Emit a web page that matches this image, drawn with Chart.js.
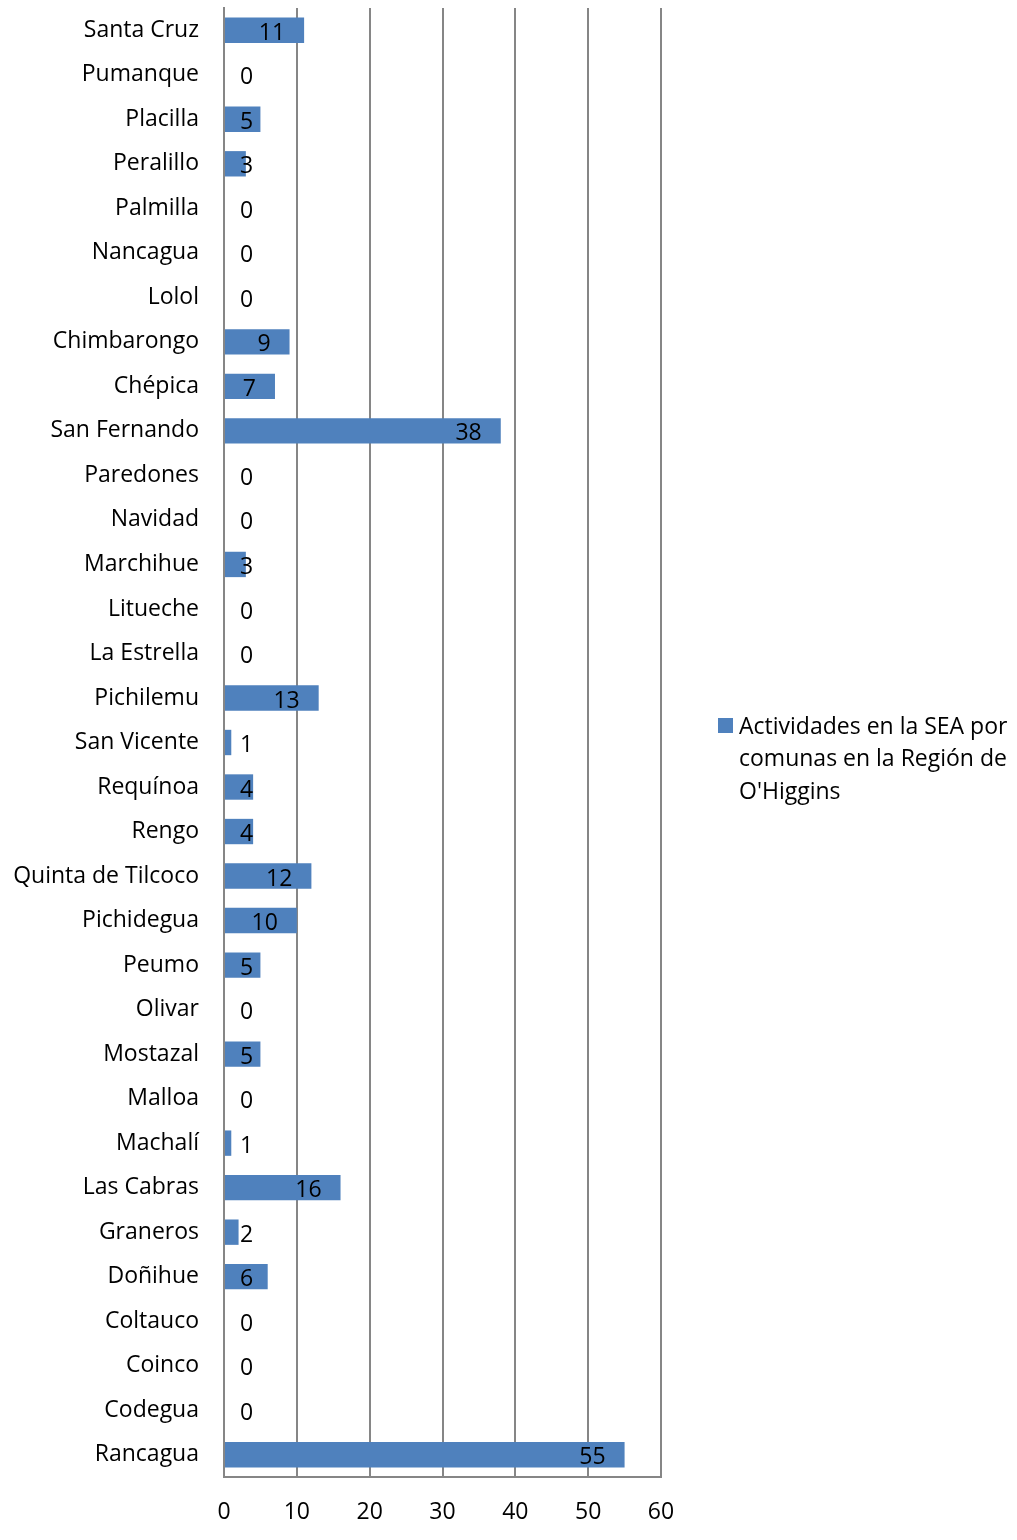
<!DOCTYPE html>
<html>
<head>
<meta charset="utf-8">
<script src="https://cdn.jsdelivr.net/npm/chart.js@4.4.0/dist/chart.umd.min.js"></script>
<style>
  html, body { margin: 0; padding: 0; background: #fff; }
  #wrap { width: 1017px; height: 1540px; position: relative; }
</style>
</head>
<body>
<div id="wrap"><canvas id="chart" width="1017" height="1540"></canvas></div>
<script>
const comunas = [
  "Santa Cruz", "Pumanque", "Placilla", "Peralillo", "Palmilla", "Nancagua", "Lolol",
  "Chimbarongo", "Chépica", "San Fernando", "Paredones", "Navidad", "Marchihue",
  "Litueche", "La Estrella", "Pichilemu", "San Vicente", "Requínoa", "Rengo",
  "Quinta de Tilcoco", "Pichidegua", "Peumo", "Olivar", "Mostazal", "Malloa",
  "Machalí", "Las Cabras", "Graneros", "Doñihue", "Coltauco", "Coinco", "Codegua",
  "Rancagua"
];
const actividades = [
  11, 0, 5, 3, 0, 0, 0,
  9, 7, 38, 0, 0, 3,
  0, 0, 13, 1, 4, 4,
  12, 10, 5, 0, 5, 0,
  1, 16, 2, 6, 0, 0, 0,
  55
];
const serieLabel = "Actividades en la SEA por comunas en la Región de O'Higgins";
const legendLines = ["Actividades en la SEA por", "comunas en la Región de", "O'Higgins"];
const xTicks = [0, 10, 20, 30, 40, 50, 60];

const FONT = "'Open Sans', Lato, sans-serif";
const FSIZE = 23;
const GRID = "#868686";
const BAR = "#4F81BD";

// value labels, Excel "inside end" style
const barLabels = {
  id: "barLabels",
  afterDatasetsDraw(chart) {
    const ctx = chart.ctx;
    const meta = chart.getDatasetMeta(0);
    const x0 = chart.scales.x.getPixelForValue(0);
    ctx.save();
    ctx.font = FSIZE + "px " + FONT;
    ctx.fillStyle = "#000";
    ctx.textBaseline = "middle";
    ctx.textAlign = "left";
    meta.data.forEach((bar, i) => {
      const txt = String(actividades[i]);
      const w = ctx.measureText(txt).width;
      const right = Math.max(bar.x - 19, x0 + 16 + w);
      ctx.fillText(txt, right - w, bar.y + 3);
    });
    ctx.restore();
  }
};

// legend drawn on the right, wrapped over three lines
const sideLegend = {
  id: "sideLegend",
  afterDraw(chart) {
    const ctx = chart.ctx;
    ctx.save();
    ctx.fillStyle = BAR;
    ctx.fillRect(718, 718, 15, 15);
    ctx.font = FSIZE + "px " + FONT;
    ctx.fillStyle = "#000";
    ctx.textBaseline = "middle";
    ctx.textAlign = "left";
    legendLines.forEach((l, i) => ctx.fillText(l, 739, 727 + i * 32.5));
    ctx.restore();
  }
};

new Chart(document.getElementById("chart"), {
  type: "bar",
  data: {
    labels: comunas,
    datasets: [{
      label: serieLabel,
      data: actividades,
      backgroundColor: BAR,
      barPercentage: 0.57,
      categoryPercentage: 1.0,
    }],
  },
  options: {
    indexAxis: "y",
    responsive: false,
    animation: false,
    layout: { padding: { top: 8, right: 356, left: 0, bottom: 0 } },
    plugins: {
      legend: { display: false },
      tooltip: { enabled: false },
    },
    scales: {
      x: {
        min: 0, max: 60,
        afterBuildTicks: (axis) => { axis.ticks = xTicks.map(v => ({ value: v })); },
        afterFit: (axis) => { axis.height = 63; axis.paddingLeft = 0; axis.paddingRight = 0; },
        grid: { color: GRID, lineWidth: 2, drawTicks: false },
        border: { color: GRID, width: 2 },
        ticks: { color: "#000", font: { family: FONT, size: FSIZE }, padding: 22 },
      },
      y: {
        afterFit: (axis) => { axis.width = 224; axis.paddingTop = 0; axis.paddingBottom = 0; },
        grid: { display: false, drawTicks: false },
        border: { color: GRID, width: 2 },
        ticks: { color: "#000", font: { family: FONT, size: FSIZE }, padding: 25, autoSkip: false },
      },
    },
  },
  plugins: [barLabels, sideLegend],
});
</script>
</body>
</html>
